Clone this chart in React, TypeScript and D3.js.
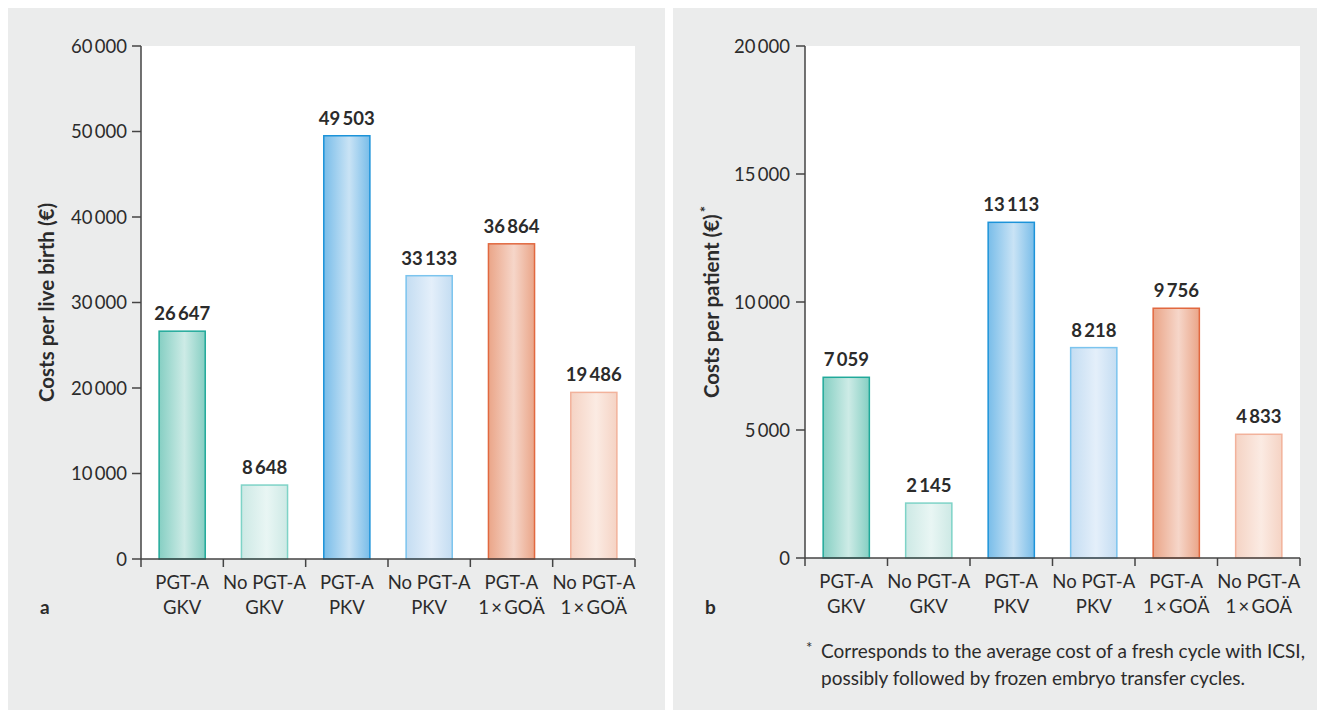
import React from "react"
import { scaleBand, scaleLinear, format } from "d3"

const labelTop = ["PGT-A", "No PGT-A", "PGT-A", "No PGT-A", "PGT-A", "No PGT-A"]
const labelBottom = ["GKV", "GKV", "PKV", "PKV", "1\u2009×\u2009GOÄ", "1\u2009×\u2009GOÄ"]

const costsPerBirth = [26647, 8648, 49503, 33133, 36864, 19486]
const costsPerPatient = [7059, 2145, 13113, 8218, 9756, 4833]

const birthTicks = [0, 10000, 20000, 30000, 40000, 50000, 60000]
const patientTicks = [0, 5000, 10000, 15000, 20000]

const barStyles = [
  { edge: "#86cfc3", mid: "#cdebe6", stroke: "#20a99a" },
  { edge: "#cde9e5", mid: "#e9f6f4", stroke: "#7ed3c7" },
  { edge: "#79bde9", mid: "#c9e3f5", stroke: "#1c93d9" },
  { edge: "#c4ddf2", mid: "#e4effa", stroke: "#7bc4ee" },
  { edge: "#eaa588", mid: "#f6d6c9", stroke: "#e1683f" },
  { edge: "#f5d3c4", mid: "#fbebe3", stroke: "#f2b29b" },
]

const FONT = "Lato, 'Open Sans', sans-serif"
const GRAY = "#ebecec"
const INK = "#2b2b2b"

const fmt = (v: number) => format(",")(v).replace(/,/g, "\u2009")

type PanelProps = {
  id: string
  x0: number
  left: number
  right: number
  top: number
  bottom: number
  values: number[]
  ticks: number[]
  max: number
  title: string
  star?: boolean
  letter: string
  tickGap: number
}

const Panel = ({ id, x0, left, right, top, bottom, values, ticks, max, title, star, letter, tickGap }: PanelProps) => {
  const x = scaleBand<number>()
    .domain(values.map((_, i) => i))
    .range([left, right])
    .paddingInner(0.44)
    .paddingOuter(0.22)
  const y = scaleLinear().domain([0, max]).range([bottom, top])
  const step = (right - left) / values.length

  return (
    <g>
      <rect x={left} y={top} width={right - left} height={bottom - top} fill="#fff" />
      <defs>
        {barStyles.map((s, i) => (
          <linearGradient key={i} id={`${id}-g${i}`} x1="0" x2="1" y1="0" y2="0">
            <stop offset="0%" stopColor={s.edge} />
            <stop offset="55%" stopColor={s.mid} />
            <stop offset="100%" stopColor={s.edge} />
          </linearGradient>
        ))}
      </defs>

      {/* bars */}
      {values.map((v, i) => (
        <g key={i}>
          <rect
            x={x(i)}
            y={y(v)}
            width={x.bandwidth()}
            height={bottom - y(v)}
            fill={`url(#${id}-g${i})`}
            stroke={barStyles[i].stroke}
            strokeWidth={1.5}
          />
          <text
            x={(x(i) ?? 0) + x.bandwidth() / 2}
            y={y(v) - 11}
            textAnchor="middle"
            fontWeight="bold"
            fontSize={18.5}
            fill={INK}
          >
            {fmt(v)}
          </text>
        </g>
      ))}

      {/* y axis */}
      <line x1={left} x2={left} y1={top} y2={bottom} stroke="#444" strokeWidth={1.5} />
      {ticks.map((t) => (
        <g key={t}>
          <line x1={left - 9} x2={left} y1={y(t)} y2={y(t)} stroke="#444" strokeWidth={1.5} />
          <text x={left - 9 - tickGap} y={y(t)} dy="0.36em" textAnchor="end" fontSize={18.5} fill={INK}>
            {fmt(t)}
          </text>
        </g>
      ))}

      {/* x axis */}
      <line x1={left} x2={right} y1={bottom} y2={bottom} stroke="#444" strokeWidth={1.5} />
      {values.map((_, i) => (
        <line key={i} x1={left + step * (i + 1)} x2={left + step * (i + 1)} y1={bottom} y2={bottom + 8} stroke="#444" strokeWidth={1.5} />
      ))}
      <line x1={left} x2={left} y1={bottom} y2={bottom + 8} stroke="#444" strokeWidth={1.5} />
      {values.map((_, i) => {
        const cx = (x(i) ?? 0) + x.bandwidth() / 2
        return (
          <text key={i} x={cx} textAnchor="middle" fontSize={18.5} fill={INK}>
            <tspan x={cx} y={bottom + 30}>{labelTop[i]}</tspan>
            <tspan x={cx} y={bottom + 55}>{labelBottom[i]}</tspan>
          </text>
        )
      })}

      {/* axis title */}
      <text
        transform={`translate(${x0 + 46},${(top + bottom) / 2}) rotate(-90)`}
        textAnchor="middle"
        fontWeight="bold"
        fontSize={20.5}
        fill={INK}
      >
        {title}
        {star && (
          <tspan dy="-8" dx="2" fontSize={15}>
            *
          </tspan>
        )}
      </text>

      <text x={x0 + 32} y={606} fontWeight="bold" fontSize={19} fill={INK}>
        {letter}
      </text>
    </g>
  )
}

export default function App() {
  return (
    <svg width={1317} height={702} style={{ display: "block", fontFamily: FONT }}>
      <rect x={0} y={0} width={657} height={702} fill={GRAY} />
      <rect x={665} y={0} width={652} height={702} fill={GRAY} />

      <Panel
        id="a"
        x0={0}
        left={133}
        right={627}
        top={38}
        bottom={551}
        values={costsPerBirth}
        ticks={birthTicks}
        max={60000}
        title="Costs per live birth (€)"
        letter="a"
        tickGap={5}
      />
      <Panel
        id="b"
        x0={665}
        left={797}
        right={1292}
        top={38}
        bottom={550}
        values={costsPerPatient}
        ticks={patientTicks}
        max={20000}
        title="Costs per patient (€)"
        star
        letter="b"
        tickGap={6}
      />

      {/* footnote */}
      <text fontSize={19} fill={INK}>
        <tspan x={798} y={645} fontSize={15}>*</tspan>
        <tspan x={813} y={650}>Corresponds to the average cost of a fresh cycle with ICSI,</tspan>
        <tspan x={813} y={677}>possibly followed by frozen embryo transfer cycles.</tspan>
      </text>
    </svg>
  )
}
